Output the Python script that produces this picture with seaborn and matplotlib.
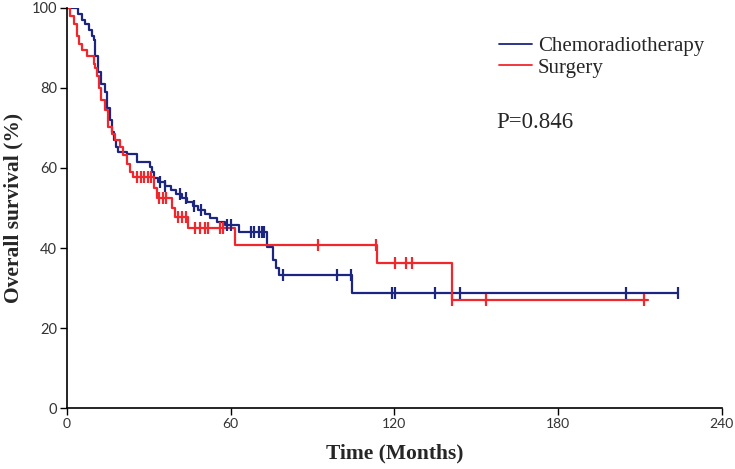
import numpy as np
import pandas as pd
import matplotlib
matplotlib.use("Agg")
import matplotlib.pyplot as plt
import seaborn as sns

# ---- data ----
crt_times = [0, 4.0, 5.5, 6.7, 7.9, 9.1, 9.7, 10.4, 11.3, 12.5, 14.0, 14.6, 15.7, 16.5, 17.3,
             18.1, 18.7, 22.0, 25.5, 30.3, 31.0, 32.0, 33.5, 36.0, 38.0, 40.0, 42.0, 44.0,
             46.0, 48.0, 50.4, 52.5, 54.8, 58.0, 63.0, 73.4, 75.3, 76.6, 77.8, 104.5, 224.0]
crt_surv = [100, 98.5, 97, 96, 94.5, 93, 92, 88, 84, 81, 79, 75, 72, 69, 67,
            65.3, 64, 63.5, 61.6, 60.3, 59, 57.5, 56.5, 55.5, 54.5, 53.5, 52.5, 51.5,
            50.5, 49.5, 48.5, 47.5, 46.5, 45.7, 44, 40.3, 37, 35, 33.3, 28.8, 28.8]
crt_censor = [34.0, 36.0, 41.3, 43.7, 46.5, 49.0, 58.8, 60.0, 67.5, 68.7, 70.5, 71.6, 72.3,
              79.0, 99.0, 104.0, 119.0, 120.2, 135.0, 144.0, 205.0, 224.0]

sur_times = [0, 1.1, 2.5, 3.6, 4.5, 5.5, 7.3, 9.7, 10.2, 11.0, 11.6, 12.4, 13.9, 15.1, 16.3,
             17.5, 19.4, 20.6, 21.8, 23.0, 24.2, 32.0, 33.0, 38.4, 39.5, 44.2, 61.4, 113.6,
             141.0, 213.0]
sur_surv = [100, 98, 96, 93, 91, 89.5, 88, 86, 85, 83, 80, 77, 74.5, 70.3, 68.5,
            67, 65.3, 63.2, 61, 59, 57.8, 55, 52.5, 50, 47.8, 45, 40.8, 36.2,
            27, 27]
sur_censor = [25.5, 27.0, 28.2, 29.5, 30.8, 33.8, 35.0, 36.2, 40.5, 42.0, 43.5, 46.8, 48.6,
              50.4, 51.5, 56.0, 57.0, 92.0, 113.3, 120.2, 124.2, 126.4, 141.2, 153.4, 211.5]

groups = ["Chemoradiotherapy", "Surgery"]
colors = {"Chemoradiotherapy": "#1c2580", "Surgery": "#f0282d"}
x_ticks = [0, 60, 120, 180, 240]
y_ticks = [0, 20, 40, 60, 80, 100]
p_text = "P=0.846"

def step_value(times, surv, t):
    idx = np.searchsorted(times, t, side="right") - 1
    return surv[max(idx, 0)]

curves = pd.concat([
    pd.DataFrame({"time": crt_times, "surv": crt_surv, "group": groups[0]}),
    pd.DataFrame({"time": sur_times, "surv": sur_surv, "group": groups[1]}),
])
cens = pd.concat([
    pd.DataFrame({"time": crt_censor,
                  "surv": [step_value(crt_times, crt_surv, t) for t in crt_censor],
                  "group": groups[0]}),
    pd.DataFrame({"time": sur_censor,
                  "surv": [step_value(sur_times, sur_surv, t) for t in sur_censor],
                  "group": groups[1]}),
])

sns.set_theme(style="white")
fig = plt.figure(figsize=(7.35, 4.69), dpi=100)
ax = fig.add_axes([0.0912, 0.130, 0.891, 0.853])

sns.lineplot(data=curves, x="time", y="surv", hue="group", palette=colors,
             estimator=None, sort=False, drawstyle="steps-post", linewidth=1.6,
             ax=ax, legend=True)
sns.scatterplot(data=cens, x="time", y="surv", hue="group", palette=colors,
                marker="|", s=70, linewidth=1.6, ax=ax, legend=False, zorder=3)

ax.set_xlim(0, 240)
ax.set_ylim(0, 100)
ax.set_xticks(x_ticks)
ax.set_yticks(y_ticks)
ax.set_xticklabels([str(v) for v in x_ticks], fontsize=10, family="Lato")
ax.set_yticklabels([str(v) for v in y_ticks], fontsize=10.5, family="Lato")
ax.tick_params(axis="both", direction="out", length=5, width=1, color="black",
               bottom=True, left=True, pad=2, labelcolor="#333333")
for s in ["top", "right"]:
    ax.spines[s].set_visible(False)
for s in ["left", "bottom"]:
    ax.spines[s].set_color("black")
    ax.spines[s].set_linewidth(1.2)

ax.set_xlabel("Time (Months)", fontsize=15.5, fontweight="bold", family="Liberation Serif",
              labelpad=10)
ax.set_ylabel("Overall survival (%)", fontsize=15.5, fontweight="bold", family="Liberation Serif",
              labelpad=6)

leg = ax.legend(loc="upper left", bbox_to_anchor=(0.643, 0.955), frameon=False,
                prop={"family": "Liberation Serif", "size": 15}, handlelength=1.6,
                handletextpad=0.3, labelspacing=0.1, borderpad=0)
for h in leg.get_lines():
    h.set_linewidth(1.3)
ax.text(0.656, 0.7125, p_text, transform=ax.transAxes, fontsize=16.5,
        family="Liberation Serif", va="center", ha="left")

fig.savefig("out.png", dpi=100)
